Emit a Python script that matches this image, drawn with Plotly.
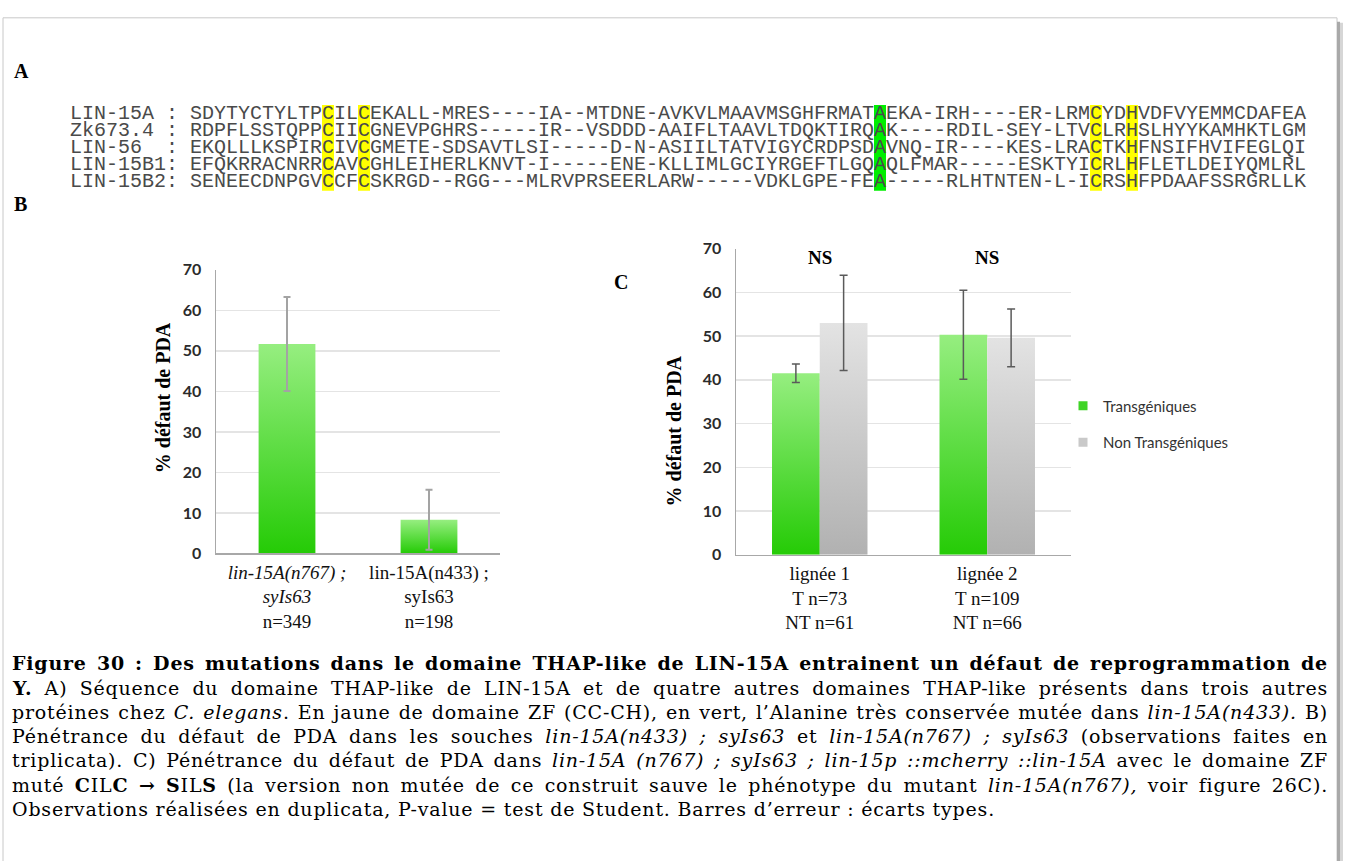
import json
import plotly.graph_objects as go

W, H = 1345, 861

# ---------------- data ----------------
align_labels = ["LIN-15A : ", "Zk673.4 : ", "LIN-56  : ", "LIN-15B1: ", "LIN-15B2: "]
align_seqs = [
    "SDYTYCTYLTPCILCEKALL-MRES----IA--MTDNE-AVKVLMAAVMSGHFRMATAEKA-IRH----ER-LRMCYDHVDFVYEMMCDAFEA",
    "RDPFLSSTQPPCIICGNEVPGHRS-----IR--VSDDD-AAIFLTAAVLTDQKTIRQAK----RDIL-SEY-LTVCLRHSLHYYKAMHKTLGM",
    "EKQLLLKSPIRCIVCGMETE-SDSAVTLSI-----D-N-ASIILTATVIGYCRDPSDAVNQ-IR----KES-LRACTKHFNSIFHVIFEGLQI",
    "EFQKRRACNRRCAVCGHLEIHERLKNVT-I-----ENE-KLLIMLGCIYRGEFTLGQAQLFMAR-----ESKTYICRLHFLETLDEIYQMLRL",
    "SENEECDNPGVCCFCSKRGD--RGG---MLRVPRSEERLARW-----VDKLGPE-FEA-----RLHTNTEN-L-ICRSHFPDAAFSSRGRLLK",
]
zf_cols = [11, 14, 75, 78]      # residues highlighted in yellow (index in sequence)
ala_cols = [57]                 # conserved alanine highlighted in green

b_labels = ["<i>lin-15A(n767) ;</i><br><i>syIs63</i><br>n=349",
            "lin-15A(n433) ;<br>syIs63<br>n=198"]
b_values = [51.7, 8.3]
b_sd = [11.6, 7.4]

c_labels = ["lignée 1<br>T n=73<br>NT n=61", "lignée 2<br>T n=109<br>NT n=66"]
c_series = ["Transgéniques", "Non Transgéniques"]
c_trans = [41.5, 50.3]
c_trans_sd = [2.1, 10.2]
c_nontrans = [53.0, 49.6]
c_nontrans_sd = [10.9, 6.6]
c_signif = ["NS", "NS"]

y_title = "% défaut de PDA"

caption_lines = [
    "<b>Figure 30 : Des mutations dans le domaine THAP-like de LIN-15A entrainent un défaut de reprogrammation de</b>",
    "<b>Y.</b> A) Séquence du domaine THAP-like de LIN-15A et de quatre autres domaines THAP-like présents dans trois autres",
    "protéines chez <i>C. elegans</i>. En jaune de domaine ZF (CC-CH), en vert, l’Alanine très conservée mutée dans <i>lin-15A(n433).</i> B)",
    "Pénétrance du défaut de PDA dans les souches <i>lin-15A(n433) ; syIs63</i> et <i>lin-15A(n767) ; syIs63</i> (observations faites en",
    "triplicata). C) Pénétrance du défaut de PDA dans <i>lin-15A (n767) ; syIs63 ; lin-15p ::mcherry ::lin-15A</i> avec le domaine ZF",
    "muté <b>C</b>IL<b>C</b> <b>→</b> <b>S</b>IL<b>S</b> (la version non mutée de ce construit sauve le phénotype du mutant <i>lin-15A(n767),</i> voir figure 26C).",
    "Observations réalisées en duplicata, P-value = test de Student. Barres d’erreur : écarts types.",
]
caption_justified = [True, True, True, True, True, True, False]

# ---------------- styling ----------------
SERIF = "Liberation Serif"
CAPSERIF = "DejaVu Serif"
MONO = "Liberation Mono"
SANS = "Lato"
GREEN_TOP, GREEN_BOT = "#96ee80", "#25cb06"
GRAY_TOP, GRAY_BOT = "#e3e3e3", "#b1b1b1"
GRID = "#e4e4e4"
AXIS = "#a8a8a8"


def px(x):
    return x / W


def py(y):
    return 1 - y / H


fig = go.Figure()

# ---------------- alignment (panel A) ----------------
ROW0, ROWSTEP = 106, 17.5
X0, CHW = 70, 12
ncols = max(len(l) + len(s) for l, s in zip(align_labels, align_seqs))
rows = list(range(len(align_seqs)))
row_text = [(l + s).replace(" ", "\u00a0") for l, s in zip(align_labels, align_seqs)]
fig.add_trace(go.Scatter(
    x=[(ncols - 1) / 2] * len(rows), y=rows, text=row_text, mode="text",
    xaxis="x3", yaxis="y3", textposition="middle center", cliponaxis=False,
    textfont=dict(family=MONO, size=20, color="#4a4a4a"),
    hoverinfo="skip", showlegend=False))

shapes = []
off = len(align_labels[0])
for cols, colr in ((zf_cols, "#ffff00"), (ala_cols, "#00ee00")):
    for c in cols:
        shapes.append(dict(type="rect", xref="x3", yref="y3", layer="below",
                           x0=off + c - 0.5, x1=off + c + 0.5, y0=-0.62, y1=len(align_seqs) - 0.38,
                           fillcolor=colr, line=dict(width=0)))

# ---------------- panel B ----------------
BW = 0.4
for i, v in enumerate(b_values):
    xa, xb = i - BW / 2, i + BW / 2
    fig.add_trace(go.Scatter(
        x=[xa, xb, xb, xa, xa], y=[0, 0, v, v, 0], fill="toself", mode="none",
        fillgradient=dict(type="vertical", colorscale=[[0, GREEN_BOT], [1, GREEN_TOP]]),
        xaxis="x", yaxis="y", hoverinfo="skip", showlegend=False))
fig.add_trace(go.Scatter(
    x=list(range(len(b_values))), y=b_values, mode="markers",
    marker=dict(color="rgba(0,0,0,0)", size=1),
    error_y=dict(type="data", array=b_sd, color="#a3a3a3", thickness=2, width=3.5),
    xaxis="x", yaxis="y", hoverinfo="skip", showlegend=False))

# ---------------- panel C ----------------
CW = 0.285
for vals, sds, top, bot, sign in ((c_trans, c_trans_sd, GREEN_TOP, GREEN_BOT, -1),
                                  (c_nontrans, c_nontrans_sd, GRAY_TOP, GRAY_BOT, 1)):
    centers = []
    for i, v in enumerate(vals):
        cx = i + sign * CW / 2
        centers.append(cx)
        xa, xb = cx - CW / 2, cx + CW / 2
        fig.add_trace(go.Scatter(
            x=[xa, xb, xb, xa, xa], y=[0, 0, v, v, 0], fill="toself", mode="none",
            fillgradient=dict(type="vertical", colorscale=[[0, bot], [1, top]]),
            xaxis="x2", yaxis="y2", hoverinfo="skip", showlegend=False))
    fig.add_trace(go.Scatter(
        x=centers, y=vals, mode="markers", marker=dict(color="rgba(0,0,0,0)", size=1),
        error_y=dict(type="data", array=sds, color="#5a5a5a", thickness=1.5, width=4),
        xaxis="x2", yaxis="y2", hoverinfo="skip", showlegend=False))

for name, colr, grp in ((c_series[0], "#3fd426", "g1"), (c_series[1], "#c9c9c9", "g2")):
    fig.add_trace(go.Scatter(
        x=[None], y=[None], mode="markers", name=name, legendgroup=grp,
        marker=dict(symbol="square", size=9, color=colr),
        xaxis="x2", yaxis="y2"))

# ---------------- axes ----------------
ytick_font = dict(family=SANS, size=16, color="#2b2b2b", weight="bold")
xtick_font = dict(family=SERIF, size=19, color="#111111")
common_y = dict(range=[0, 70], dtick=10, showgrid=True, gridcolor=GRID, gridwidth=1.5,
                showline=True, linecolor=AXIS, linewidth=1.5, ticks="", zeroline=False,
                tickfont=ytick_font, ticklabelstandoff=10, fixedrange=True)
common_x = dict(range=[-0.5, 1.5], tickvals=[0, 1], showgrid=False, showline=True,
                linecolor=AXIS, linewidth=1.5, ticks="", zeroline=False,
                tickfont=xtick_font, ticklabelstandoff=1, fixedrange=True)

fig.update_layout(
    xaxis=dict(domain=[px(216), px(500)], anchor="y", ticktext=b_labels, **common_x),
    yaxis=dict(domain=[py(555.7), py(265.7)], anchor="x", **common_y),
    xaxis2=dict(domain=[px(736), px(1071)], anchor="y2", ticktext=c_labels, **common_x),
    yaxis2=dict(domain=[py(557), py(244)], anchor="x2", **common_y),
    xaxis3=dict(domain=[px(X0), px(X0 + CHW * ncols)], range=[-0.5, ncols - 0.5],
                visible=False, fixedrange=True, anchor="y3"),
    yaxis3=dict(domain=[py(ROW0 + ROWSTEP * (len(align_seqs) - 0.5)), py(ROW0 - ROWSTEP * 0.5)],
                range=[len(align_seqs) - 0.5, -0.5], visible=False, fixedrange=True, anchor="x3"),
)

# ---------------- frame ----------------
shapes += [
    dict(type="rect", xref="paper", yref="paper", layer="below",
         x0=px(3), x1=px(1337), y0=-0.05, y1=py(8),
         fillcolor="white", line=dict(color="#c8c8c8", width=1)),
    dict(type="rect", xref="paper", yref="paper", layer="below",
         x0=px(1337), x1=px(1340), y0=-0.05, y1=py(12),
         fillcolor="#a9a9a9", line=dict(width=0)),
    dict(type="rect", xref="paper", yref="paper", layer="below",
         x0=px(1340), x1=px(1343), y0=-0.05, y1=py(13),
         fillcolor="#d6d6d6", line=dict(width=0)),
]

# ---------------- annotations ----------------
ann = []


def add_ann(**kw):
    ann.append(kw)
    return len(ann) - 1


panel_font = dict(family=SERIF, size=20, color="black", weight="bold")
add_ann(text="<b>A</b>", x=px(12), y=py(62), xref="paper", yref="paper",
        xanchor="left", yanchor="middle", showarrow=False, font=panel_font)
add_ann(text="<b>B</b>", x=px(12), y=py(198), xref="paper", yref="paper",
        xanchor="left", yanchor="middle", showarrow=False, font=panel_font)
add_ann(text="<b>C</b>", x=px(612), y=py(278), xref="paper", yref="paper",
        xanchor="left", yanchor="middle", showarrow=False, font=panel_font)

title_font = dict(family=SERIF, size=20, color="black")
add_ann(text="<b>" + y_title + "</b>", x=px(150), y=py(397), xref="paper", yref="paper",
        textangle=-90, showarrow=False, font=title_font)
add_ann(text="<b>" + y_title + "</b>", x=px(674), y=py(431), xref="paper", yref="paper",
        textangle=-90, showarrow=False, font=title_font)

for i, s in enumerate(c_signif):
    add_ann(text="<b>" + s + "</b>", x=i, y=py(253), xref="x2", yref="paper",
            yanchor="middle", showarrow=False,
            font=dict(family=SERIF, size=19, color="black"))

CAP_TOP, CAP_STEP = 668, 24.8
CAP_LEFT, CAP_RIGHT = 12, 1328
LAST_LINE_RIGHT = 995
cap_idx = []
justify = {}
for k, (line, just) in enumerate(zip(caption_lines, caption_justified)):
    idx = add_ann(text=line, x=px(CAP_LEFT), y=py(CAP_TOP + k * CAP_STEP), xref="paper",
                  yref="paper", xanchor="left", yanchor="middle", align="left",
                  showarrow=False, borderpad=0, borderwidth=0,
                  font=dict(family=CAPSERIF, size=19, color="black"))
    cap_idx.append(str(idx))
    if just:
        justify[str(idx)] = CAP_RIGHT - CAP_LEFT
ref_line = cap_idx[-1]

fig.update_layout(
    annotations=ann, shapes=shapes,
    width=W, height=H, margin=dict(l=0, r=0, t=0, b=0),
    paper_bgcolor="white", plot_bgcolor="rgba(0,0,0,0)",
    hovermode=False, showlegend=True,
    legend=dict(x=px(1063), y=py(388), xanchor="left", yanchor="top",
                font=dict(family=SANS, size=15, color="#333333"),
                tracegroupgap=14, bgcolor="rgba(0,0,0,0)", itemclick=False),
)

post = """
document.documentElement.style.margin = '0';
document.body.style.margin = '0';
document.body.style.padding = '0';
document.body.style.overflow = 'hidden';
var gd = document.getElementById('{plot_id}');
var JUST = %s;
var CAPS = %s;
var REF = '%s';
var REFW = %f;
function capText(idx){
  var g = gd.querySelector('g.annotation[data-index="' + idx + '"]');
  return g ? g.querySelector('text.annotation-text') : null;
}
function layoutCaption(){
  var k, t;
  for (k = 0; k < CAPS.length; k++) {
    t = capText(CAPS[k]);
    if (t) { t.style.letterSpacing = '0px'; t.style.wordSpacing = '0px'; }
  }
  var r = capText(REF);
  var ls = 0;
  if (r) {
    var w0 = r.getBBox().width;
    var n0 = r.textContent.length;
    ls = Math.max(-1, Math.min(2.5, (REFW - w0) / n0));
  }
  for (k = 0; k < CAPS.length; k++) {
    t = capText(CAPS[k]);
    if (t) t.style.letterSpacing = ls + 'px';
  }
  for (var idx in JUST) {
    t = capText(idx);
    if (!t) continue;
    var w = t.getBBox().width;
    var n = (t.textContent.match(/[ \\u00a0]/g) || []).length;
    if (n > 0) t.style.wordSpacing = ((JUST[idx] - w) / n) + 'px';
  }
}
layoutCaption();
setTimeout(layoutCaption, 100);
setTimeout(layoutCaption, 600);
if (gd.on) gd.on('plotly_afterplot', layoutCaption);
""" % (json.dumps(justify), json.dumps(cap_idx), ref_line, LAST_LINE_RIGHT - CAP_LEFT)

fig.write_html("out.html", post_script=post, config={"displayModeBar": False, "staticPlot": True})
